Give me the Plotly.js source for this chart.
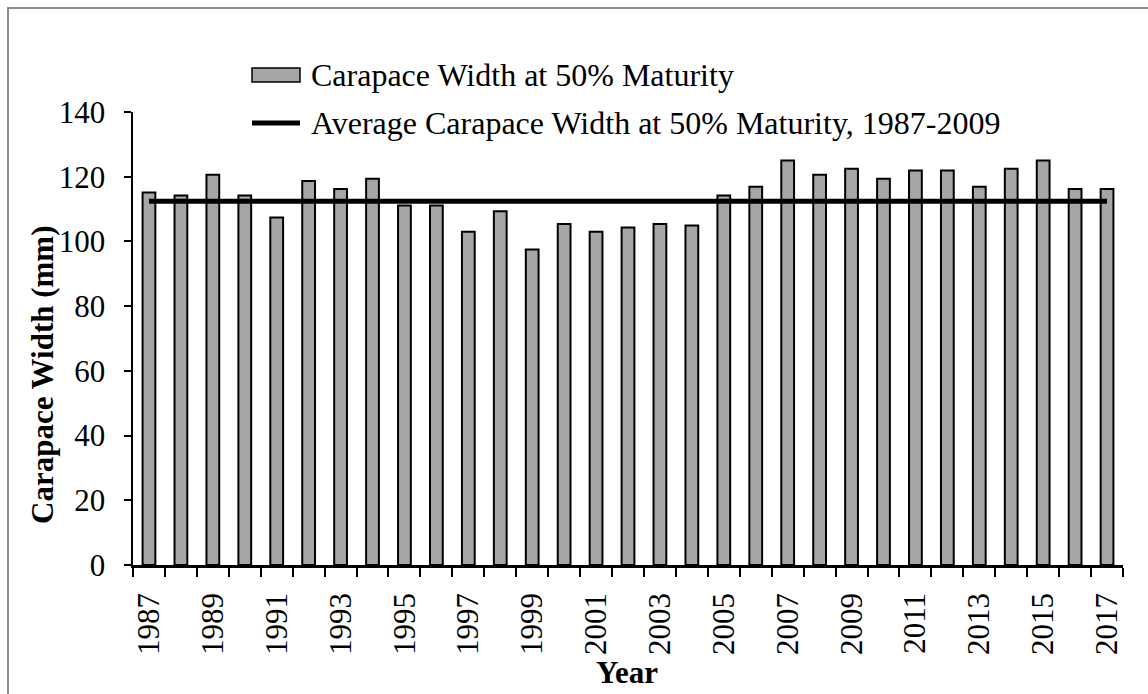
<!DOCTYPE html>
<html>
<head>
<meta charset="utf-8">
<script src="https://cdn.plot.ly/plotly-3.0.1.min.js"></script>
<style>html,body{margin:0;padding:0;background:#fff;}#chart{width:1148px;height:694px;}</style>
</head>
<body>
<div id="chart"></div>
<script>
const years = ['1987','1988','1989','1990','1991','1992','1993','1994','1995','1996','1997','1998','1999','2000','2001','2002','2003','2004','2005','2006','2007','2008','2009','2010','2011','2012','2013','2014','2015','2016','2017'];
const widthAt50 = [115.1,114.2,120.6,114.2,107.4,118.7,116.2,119.4,111.1,111.1,103.0,109.3,97.5,105.4,103.0,104.3,105.4,104.9,114.2,116.9,125.0,120.6,122.5,119.4,121.9,121.9,116.9,122.5,125.0,116.2,116.2];
const averageValue = 112.4;
const averageSpan = [years[0], years[years.length - 1]];
const tickLabels = years.map((y, i) => (i % 2 === 0 ? y : ''));
const seriesNames = ['Carapace Width at 50% Maturity', 'Average Carapace Width at 50% Maturity, 1987-2009'];
const yTitle = 'Carapace Width (mm)';
const xTitle = 'Year';

const FONT = 'Liberation Serif';
const FS = 31;
const LFS = 32;

const traces = [
  {
    type: 'bar', x: years, y: widthAt50, name: seriesNames[0],
    marker: {color: '#a6a6a6', line: {color: '#000', width: 2}},
    showlegend: false, hoverinfo: 'x+y'
  },
  {
    type: 'scatter', mode: 'lines', x: averageSpan, y: [averageValue, averageValue], name: seriesNames[1],
    line: {color: '#000', width: 5}, showlegend: false
  }
];

// paper coordinate helpers (plot area: x 133..1123, y 112..565)
const L = 133, R = 1123, T = 112, B = 565;
const px = v => (v - L) / (R - L);
const py = v => (B - v) / (B - T);

const layout = {
  width: 1148, height: 694,
  margin: {l: L, r: 1148 - R, t: T, b: 694 - B},
  paper_bgcolor: '#fff', plot_bgcolor: '#fff',
  font: {family: FONT, size: FS, color: '#000'},
  bargap: 0.6,
  xaxis: {
    type: 'category', tickmode: 'array', tickvals: years, ticktext: tickLabels,
    tickson: 'boundaries', ticks: 'outside', ticklen: 9, tickwidth: 2, tickcolor: '#000',
    tickangle: -90, showline: true, linecolor: '#000', linewidth: 2.5, ticklabelstandoff: 13,
    showgrid: false, zeroline: false, tickfont: {family: FONT, size: FS}
  },
  yaxis: {
    range: [0, 140], dtick: 20, ticks: 'outside', ticklen: 7, tickwidth: 2, tickcolor: '#000',
    showline: true, linecolor: '#000', linewidth: 2.5, showgrid: false, zeroline: false,
    ticklabelstandoff: 12,
    tickfont: {family: FONT, size: FS}
  },
  shapes: [
    {type: 'rect', xref: 'paper', yref: 'paper', x0: px(8), x1: px(1160), y0: py(8), y1: py(710),
     line: {color: '#8c8c8c', width: 2}, fillcolor: 'rgba(0,0,0,0)', layer: 'below'},
    {type: 'rect', xref: 'paper', yref: 'paper', x0: px(252), x1: px(300), y0: py(68), y1: py(82),
     line: {color: '#000', width: 1.5}, fillcolor: '#a6a6a6'},
    {type: 'line', xref: 'paper', yref: 'paper', x0: px(252), x1: px(300), y0: py(123), y1: py(123),
     line: {color: '#000', width: 5}}
  ],
  annotations: [
    {xref: 'paper', yref: 'paper', x: px(309), y: py(75), xanchor: 'left', yanchor: 'middle',
     text: seriesNames[0], showarrow: false, font: {family: FONT, size: LFS}},
    {xref: 'paper', yref: 'paper', x: px(309), y: py(123), xanchor: 'left', yanchor: 'middle',
     text: seriesNames[1], showarrow: false, font: {family: FONT, size: LFS}},
    {xref: 'paper', yref: 'paper', x: px(42), y: py(375), xanchor: 'center', yanchor: 'middle', textangle: -90,
     text: '<b>' + yTitle + '</b>', showarrow: false, font: {family: FONT, size: FS}},
    {xref: 'paper', yref: 'paper', x: px(627), y: py(672), xanchor: 'center', yanchor: 'middle',
     text: '<b>' + xTitle + '</b>', showarrow: false, font: {family: FONT, size: FS}}
  ]
};

Plotly.newPlot('chart', traces, layout, {displayModeBar: false, staticPlot: true});
</script>
</body>
</html>
